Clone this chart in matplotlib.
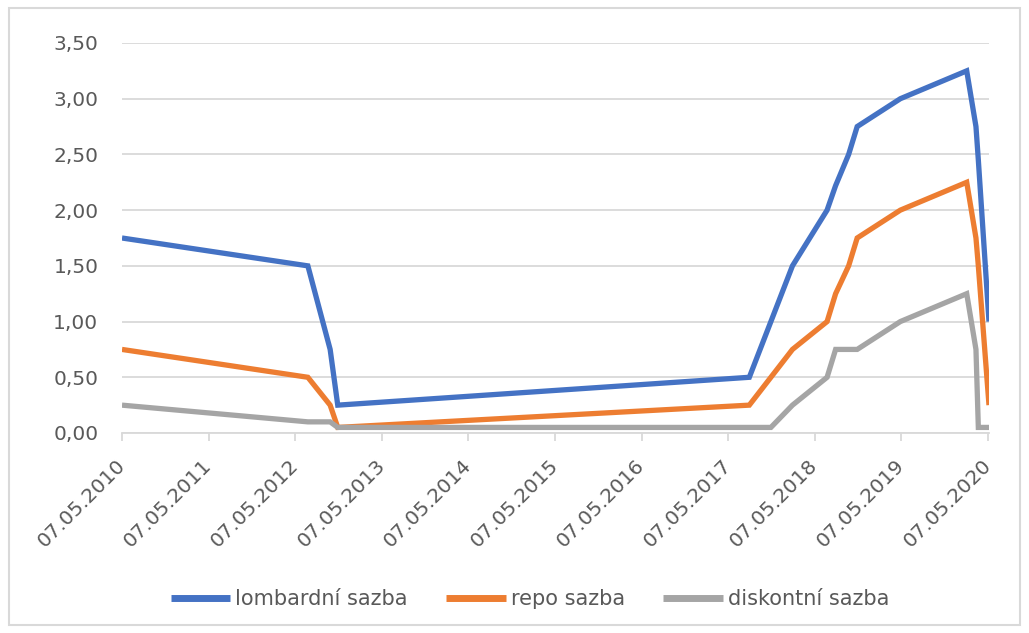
import datetime as dt

import matplotlib
matplotlib.use("Agg")
import matplotlib.pyplot as plt
import matplotlib.dates as mdates
from matplotlib.patches import Rectangle
from matplotlib.ticker import FuncFormatter, MultipleLocator

# data (change dates of CNB rates)
dates = [
    "2010-05-07", "2012-06-29", "2012-10-01", "2012-11-02",
    "2017-08-04", "2017-11-03", "2018-02-02", "2018-06-28",
    "2018-08-03", "2018-09-27", "2018-11-02", "2019-05-03",
    "2020-02-07", "2020-03-17", "2020-03-27", "2020-05-11",
]
lombard = [1.75, 1.50, 0.75, 0.25, 0.50, 1.00, 1.50, 2.00,
           2.22, 2.50, 2.75, 3.00, 3.25, 2.75, 2.45, 1.00]
repo = [0.75, 0.50, 0.25, 0.05, 0.25, 0.50, 0.75, 1.00,
        1.25, 1.50, 1.75, 2.00, 2.25, 1.75, 1.50, 0.25]
discount = [0.25, 0.10, 0.10, 0.05, 0.05, 0.05, 0.25, 0.50,
            0.75, 0.75, 0.75, 1.00, 1.25, 0.75, 0.05, 0.05]
labels = ["lombardní sazba", "repo sazba", "diskontní sazba"]
tick_years = list(range(2010, 2021))

x = [dt.datetime.strptime(d, "%Y-%m-%d") for d in dates]
tick_dates = [dt.datetime(y, 5, 7) for y in tick_years]

plt.rcParams["font.family"] = ["DejaVu Sans"]
text_col = "#595959"
grid_col = "#D9D9D9"

fig = plt.figure(figsize=(10.29, 6.33), dpi=100)
fig.patches.append(Rectangle((9 / 1029, 8 / 633), 1011 / 1029, 617 / 633,
                             transform=fig.transFigure, fill=False,
                             edgecolor=grid_col, linewidth=1.5))

ax = fig.add_axes([122 / 1029, 1 - 433 / 633, 867 / 1029, 390 / 633])

colors = ["#4472C4", "#ED7D31", "#A5A5A5"]
for series, label, color in zip([lombard, repo, discount], labels, colors):
    ax.plot(x, series, color=color, linewidth=3.8, label=label,
            solid_joinstyle="miter", solid_capstyle="butt", zorder=3)

ax.set_xlim(x[0], x[-1])
ax.set_ylim(0, 3.5)
ax.yaxis.set_major_locator(MultipleLocator(0.5))
ax.yaxis.set_major_formatter(FuncFormatter(lambda v, p: f"{v:.2f}".replace(".", ",")))
ax.grid(axis="y", color=grid_col, linewidth=1.3)
ax.set_axisbelow(True)

ax.set_xticks(tick_dates)
ax.xaxis.set_major_formatter(mdates.DateFormatter("%d.%m.%Y"))
for lbl in ax.get_xticklabels():
    lbl.set_rotation(45)
    lbl.set_rotation_mode("anchor")
    lbl.set_ha("right")
    lbl.set_va("center")

for side in ["top", "right", "left"]:
    ax.spines[side].set_visible(False)
ax.spines["bottom"].set_color(grid_col)
ax.spines["bottom"].set_linewidth(1.3)

ax.tick_params(axis="y", length=0, pad=17, labelsize=14.5, labelcolor=text_col)
ax.tick_params(axis="x", length=6, width=1.3, color=grid_col, pad=15,
               labelsize=14.5, labelcolor=text_col)

leg = fig.legend(loc="center", bbox_to_anchor=(0.515, 1 - 599 / 633), ncol=3,
                 frameon=False, fontsize=15, handlelength=2.85,
                 handletextpad=0.25, columnspacing=1.85)
for t in leg.get_texts():
    t.set_color(text_col)
for h in leg.get_lines():
    h.set_linewidth(5)

fig.savefig("out.png", dpi=100)
